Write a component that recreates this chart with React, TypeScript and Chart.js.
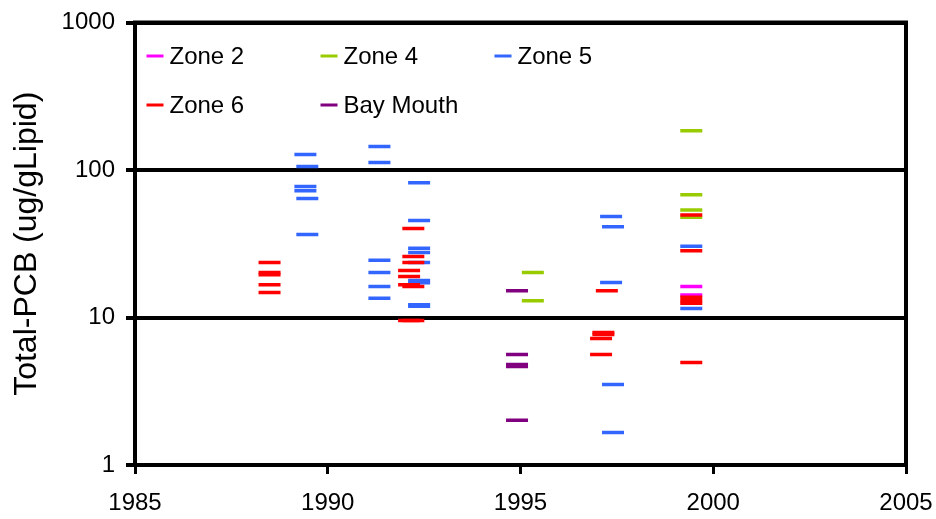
import React, { useEffect, useRef } from "react";
import { Chart, registerables } from "chart.js";

Chart.register(...registerables);

const FONT = "'Liberation Sans', Arial, sans-serif";

const seriesNames = ["Zone 2", "Zone 4", "Zone 5", "Zone 6", "Bay Mouth"];
const seriesColors = ["#FF00FF", "#99CC00", "#3366FF", "#FF0000", "#800080"];

const zone2Years = [1999.43, 1999.43];
const zone2Values = [16.2, 14.2];

const zone4Years = [1995.32, 1995.32, 1999.43, 1999.43, 1999.43, 1999.43];
const zone4Values = [20.2, 13.0, 184.6, 68, 53.6, 47.8];

const zone5Years = [
  1989.42, 1989.47, 1989.42, 1989.42, 1989.47, 1989.47,
  1991.34, 1991.34, 1991.34, 1991.34, 1991.34, 1991.34,
  1992.37, 1992.37, 1992.37, 1992.37, 1992.37, 1992.37, 1992.37, 1992.37, 1992.37,
  1997.35, 1997.4, 1997.35, 1997.4, 1997.4,
  1999.43, 1999.43,
];
const zone5Values = [
  127.5, 105.7, 77.4, 72.4, 64, 36.6,
  144.6, 112.6, 24.4, 20.2, 16.2, 13.5,
  82, 45.4, 29.5, 27.6, 23.6, 17.8, 17.2, 12.2, 11.9,
  48.3, 41.3, 17.3, 3.52, 1.66,
  30.4, 11.5,
];

const zone6Years = [
  1988.49, 1988.49, 1988.49, 1988.49, 1988.49,
  1992.22, 1992.22, 1992.22, 1992.11, 1992.11, 1992.11, 1992.22, 1992.11, 1992.22,
  1997.24, 1997.15, 1997.15, 1997.09, 1997.09,
  1999.43, 1999.43, 1999.43, 1999.43, 1999.43, 1999.43,
];
const zone6Values = [
  23.6, 20.2, 19.5, 16.7, 14.8,
  40.1, 25.9, 23.6, 20.8, 19.0, 16.7, 16.2, 9.55, 9.55,
  15.2, 7.92, 7.67, 7.2, 5.62,
  49.6, 28.4, 13.7, 13.0, 12.5, 4.96,
];

const bayYears = [1994.91, 1994.91, 1994.91, 1994.91, 1994.91];
const bayValues = [15.2, 5.62, 4.8, 4.66, 2.01];

const xTicks = [1985, 1990, 1995, 2000, 2005];
const yTicks = [1, 10, 100, 1000];
const yTitle = "Total-PCB (ug/gLipid)";

const seriesYears = [zone2Years, zone4Years, zone5Years, zone6Years, bayYears];
const seriesValues = [zone2Values, zone4Values, zone5Values, zone6Values, bayValues];

const frameAndLegend = {
  id: "frameAndLegend",
  afterDraw(chart: any) {
    const { ctx, chartArea } = chart;
    ctx.save();
    ctx.strokeStyle = "#000";
    ctx.lineWidth = 4;
    ctx.strokeRect(chartArea.left, chartArea.top, chartArea.right - chartArea.left, chartArea.bottom - chartArea.top);
    ctx.font = `24px ${FONT}`;
    ctx.textBaseline = "middle";
    ctx.textAlign = "center";
    ctx.fillStyle = "#000";
    const xs = chart.scales.x;
    xTicks.forEach((v) => {
      ctx.fillText(String(v), xs.getPixelForValue(v), chartArea.bottom + 38.5);
    });
    ctx.textAlign = "left";
    chart.data.datasets.forEach((ds: any, i: number) => {
      const col = i % 3;
      const row = Math.floor(i / 3);
      const x = chartArea.left + 11.5 + col * 174;
      const y = chartArea.top + 33.5 + row * 49;
      ctx.strokeStyle = ds.borderColor;
      ctx.lineWidth = 3;
      ctx.beginPath();
      ctx.moveTo(x, y);
      ctx.lineTo(x + 17, y);
      ctx.stroke();
      ctx.fillStyle = "#000";
      ctx.fillText(ds.label, x + 23, y + 1);
    });
    ctx.restore();
  },
};

const zeroPad = (s: any) => {
  s.paddingTop = 0;
  s.paddingBottom = 0;
  s.paddingLeft = 0;
  s.paddingRight = 0;
};

export default function App() {
  const ref = useRef<HTMLCanvasElement>(null);
  useEffect(() => {
    if (!ref.current) return;
    const datasets = seriesNames.map((name, i) => ({
      label: name,
      data: seriesYears[i].map((x, j) => ({ x, y: seriesValues[i][j] })),
      borderColor: seriesColors[i],
      backgroundColor: seriesColors[i],
      pointStyle: "line",
      pointRadius: 11,
      pointHoverRadius: 11,
      pointBorderWidth: 3.5,
      showLine: false,
      order: seriesNames.length - i,
    }));
    const chart = new Chart(ref.current, {
      type: "scatter",
      data: { datasets },
      plugins: [frameAndLegend],
      options: {
        animation: false,
        responsive: false,
        maintainAspectRatio: false,
        layout: { padding: { left: 8, right: 30, top: 22.5, bottom: 0 } },
        plugins: { legend: { display: false }, tooltip: { enabled: false } },
        scales: {
          x: {
            type: "linear",
            min: 1985,
            max: 2005,
            afterBuildTicks: (s: any) => {
              s.ticks = xTicks.map((v) => ({ value: v }));
            },
            afterFit: (s: any) => {
              s.height = 54;
              zeroPad(s);
            },
            grid: { drawOnChartArea: false, drawTicks: true, tickLength: 9, color: "#000", lineWidth: 3 },
            border: { display: true, color: "#000", width: 4 },
            ticks: { display: false },
          },
          y: {
            type: "logarithmic",
            min: 1,
            max: 1000,
            afterBuildTicks: (s: any) => {
              s.ticks = yTicks.map((v) => ({ value: v }));
            },
            afterFit: (s: any) => {
              s.width = 127;
              zeroPad(s);
            },
            grid: { drawOnChartArea: true, drawTicks: true, tickLength: 9, color: "#000", lineWidth: 4 },
            border: { display: true, color: "#000", width: 4 },
            ticks: {
              color: "#000",
              font: { family: FONT, size: 24 },
              padding: 11,
              callback: (v: any) => String(v),
            },
            title: {
              display: true,
              text: yTitle,
              color: "#000",
              font: { family: FONT, size: 32 },
              padding: { top: 0, bottom: 0 },
            },
          },
        },
      },
    } as any);
    return () => chart.destroy();
  }, []);
  return (
    <div style={{ position: "fixed", left: 0, top: 0, width: 936, height: 519, background: "#fff" }}>
      <canvas ref={ref} width={936} height={519} style={{ display: "block" }} />
    </div>
  );
}
